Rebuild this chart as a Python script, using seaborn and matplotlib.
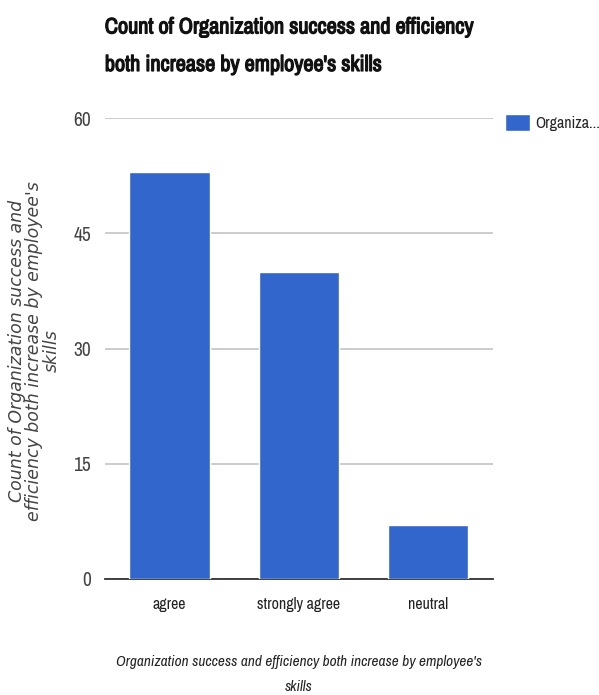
import matplotlib
matplotlib.use("Agg")
import matplotlib.pyplot as plt
import matplotlib.patheffects as pe
import seaborn as sns
import pandas as pd

# Datos
categories = ["agree", "strongly agree", "neutral"]
counts = [53, 40, 7]
y_ticks = [0, 15, 30, 45, 60]

title = "Count of Organization success and efficiency\nboth increase by employee's skills"
x_label = "Organization success and efficiency both increase by employee's\nskills"
y_label = "Count of Organization success and\nefficiency both increase by employee's\nskills"
legend_label = "Organiza..."

bar_color = "#3366CC"

sns.set_theme(style="white")
narrow = ["Archivo Narrow", "DejaVu Sans"]
plt.rcParams['font.family'] = narrow

df = pd.DataFrame({"cat": categories, "count": counts})

fig = plt.figure(figsize=(5.99, 6.95), dpi=100)
ax = fig.add_axes([0.175, 0.167, 0.648, 0.663])

sns.barplot(data=df, x="cat", y="count", color=bar_color, saturation=1,
            width=0.62, ax=ax, label=legend_label, zorder=3)

ax.set_ylim(0, 60)
ax.set_xlim(-0.5, 2.5)
ax.set_yticks(y_ticks)
ax.set_yticklabels([str(t) for t in y_ticks], fontsize=14, color="#444444")
ax.tick_params(axis="x", labelsize=11.5, colors="#222222", length=0, pad=13)
ax.tick_params(axis="y", length=0, pad=10)
ax.grid(axis="y", color="#cccccc", linewidth=1.4, zorder=0)
ax.grid(axis="x", visible=False)
for s in ["top", "right", "left"]:
    ax.spines[s].set_visible(False)
ax.spines["bottom"].set_color("#333333")
ax.spines["bottom"].set_linewidth(1.3)

ax.set_xlabel(x_label, fontsize=11, style="italic", color="#222222", labelpad=31,
              linespacing=2.0)
ax.set_ylabel("")
fig.text(0.057, 0.495, y_label, rotation=90, ha="center", va="center",
         fontsize=12.5, style="italic", color="#444444", linespacing=0.95,
         family=["DejaVu Sans"])

fig.text(0.175, 0.975, title, ha="left", va="top", fontsize=16, color="#111111",
         linespacing=2.1,
         path_effects=[pe.withStroke(linewidth=0.9, foreground="#111111")])

ax.legend(loc="upper left", bbox_to_anchor=(0.843, 0.836), bbox_transform=fig.transFigure,
          frameon=False, fontsize=11.5, handlelength=1.55, handleheight=1.3,
          handletextpad=0.35, borderaxespad=0, borderpad=0)

fig.savefig("out.png", dpi=100)
